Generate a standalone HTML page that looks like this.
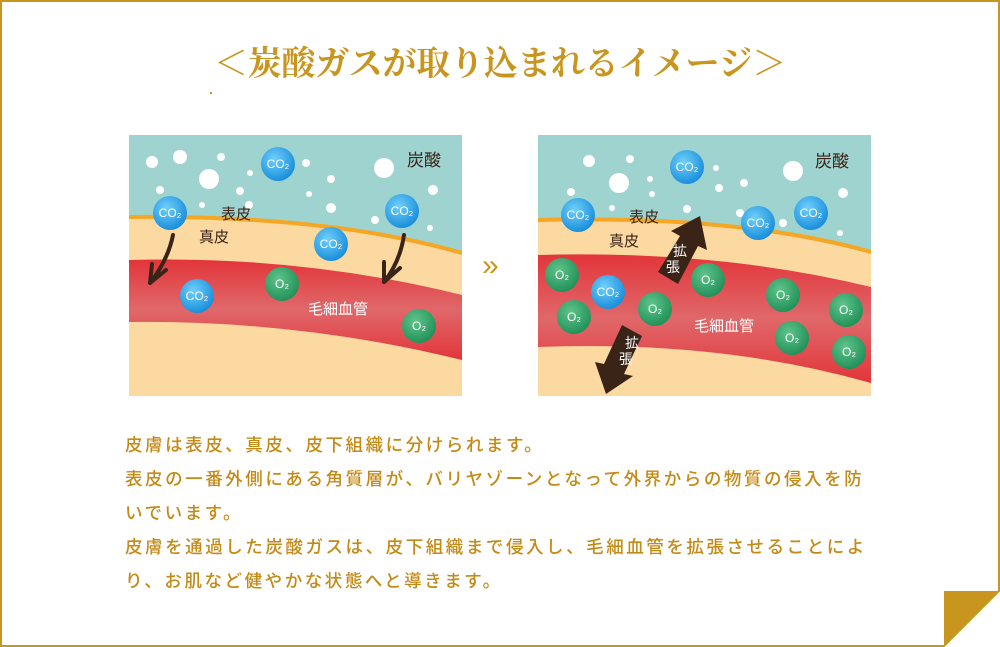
<!DOCTYPE html>
<html><head><meta charset="utf-8"><style>
html,body{margin:0;padding:0;background:#fff;}
body{width:1000px;height:647px;position:relative;overflow:hidden;font-family:"Liberation Sans","Noto Sans CJK JP",sans-serif;}
.title{position:absolute;left:0;width:1000px;top:36px;text-align:center;font-family:"Liberation Serif","Noto Serif CJK SC",serif;font-size:34px;font-weight:bold;color:#c8961e;letter-spacing:-0.3px;}
.txt{position:absolute;left:125px;top:428px;font-size:17.5px;line-height:34px;color:#c48a16;letter-spacing:2.55px;font-weight:500;}
svg{position:absolute;left:0;top:0;}
</style></head><body>
<svg width="1000" height="647" xmlns="http://www.w3.org/2000/svg">
<defs>
<radialGradient id="b" cx="40%" cy="35%" r="65%"><stop offset="0" stop-color="#6fd0fa"/><stop offset="1" stop-color="#1b8fdc"/></radialGradient>
<radialGradient id="g" cx="40%" cy="35%" r="65%"><stop offset="0" stop-color="#5fc48a"/><stop offset="1" stop-color="#22925a"/></radialGradient>
<linearGradient id="r" x1="0" y1="0" x2="0" y2="1"><stop offset="0" stop-color="#e2353a"/><stop offset="0.5" stop-color="#e0686a"/><stop offset="1" stop-color="#e2353a"/></linearGradient>
<clipPath id="c1"><rect x="129" y="135" width="333" height="261"/></clipPath>
<clipPath id="c2"><rect x="538" y="135" width="333" height="261"/></clipPath>
</defs>
<path d="M1,1 H999 V591 L944,646 H1 Z" fill="none" stroke="#c8961e" stroke-width="2"/>
<polygon points="944,591 999,591 944,646" fill="#c8961e"/>
<rect x="210" y="92" width="2" height="2" fill="#c8961e"/>
<g clip-path="url(#c1)">
<rect x="129" y="135" width="333" height="261" fill="#fbd9a0"/>
<path d="M129,135 H462 V253 Q330,215 129,217 Z" fill="#9fd3cf"/>
<path d="M129,217 Q330,215 462,253" fill="none" stroke="#f5a623" stroke-width="4"/>
<path d="M129,260 Q300,255 462,295 V360 Q300,320 129,322 Z" fill="url(#r)"/>
<g fill="#fff">
<circle cx="152" cy="162" r="6"/><circle cx="180" cy="157" r="7"/><circle cx="209" cy="179" r="10"/><circle cx="221" cy="157" r="4"/><circle cx="160" cy="190" r="4"/><circle cx="240" cy="191" r="4"/><circle cx="250" cy="173" r="3"/><circle cx="202" cy="205" r="3"/><circle cx="249" cy="205" r="4"/><circle cx="306" cy="163" r="4"/><circle cx="309" cy="194" r="3"/><circle cx="331" cy="179" r="4"/><circle cx="331" cy="208" r="5"/><circle cx="384" cy="168" r="10"/><circle cx="375" cy="220" r="4"/><circle cx="433" cy="190" r="5"/><circle cx="430" cy="228" r="3"/>
</g>
<g stroke="#3a2418" stroke-width="4" fill="none" stroke-linecap="round"><path d="M173,235 Q168,260 150,283 M150,283 L152,264 M150,283 L166,270"/><path d="M404,235 Q400,262 384,282 M384,282 L384,262 M384,282 L400,268"/></g>
</g>
<g clip-path="url(#c2)">
<rect x="538" y="135" width="333" height="261" fill="#fbd9a0"/>
<path d="M538,135 H871 V252 Q740,215 538,220 Z" fill="#9fd3cf"/>
<path d="M538,220 Q740,215 871,252" fill="none" stroke="#f5a623" stroke-width="4"/>
<path d="M538,255 Q720,250 871,287 V383 Q720,340 538,347 Z" fill="url(#r)"/>
<g fill="#fff">
<circle cx="589" cy="161" r="6"/><circle cx="619" cy="183" r="10"/><circle cx="630" cy="159" r="4"/><circle cx="571" cy="192" r="4"/><circle cx="650" cy="179" r="3"/><circle cx="652" cy="194" r="3"/><circle cx="612" cy="208" r="3"/><circle cx="716" cy="168" r="3"/><circle cx="719" cy="188" r="4"/><circle cx="744" cy="183" r="4"/><circle cx="793" cy="171" r="10"/><circle cx="843" cy="193" r="5"/><circle cx="840" cy="233" r="3"/><circle cx="687" cy="209" r="4"/><circle cx="740" cy="213" r="4"/><circle cx="783" cy="223" r="4"/>
</g>
<g fill="#3a2418">
<polygon points="700,216 707,250 698,246 678,284 658,272 680,236 671,231"/>
<polygon points="606,394 595,362 604,364 622,325 642,336 624,374 633,376"/>
</g>
<g fill="#fff" font-size="14" font-family="'Liberation Sans','Noto Sans CJK JP',sans-serif">
<text x="673" y="256">拡</text><text x="666" y="272">張</text>
<text x="625" y="348">拡</text><text x="619" y="364">張</text>
</g>
</g>
<g font-family="'Liberation Sans','Noto Sans CJK JP',sans-serif" fill="#fff" font-size="12" text-anchor="middle">
<g><circle cx="278" cy="164" r="17" fill="url(#b)"/><text x="278" y="168">CO₂</text></g>
<g><circle cx="170" cy="213" r="17" fill="url(#b)"/><text x="170" y="217">CO₂</text></g>
<g><circle cx="402" cy="211" r="17" fill="url(#b)"/><text x="402" y="215">CO₂</text></g>
<g><circle cx="331" cy="244" r="17" fill="url(#b)"/><text x="331" y="248">CO₂</text></g>
<g><circle cx="197" cy="296" r="17" fill="url(#b)"/><text x="197" y="300">CO₂</text></g>
<g><circle cx="282" cy="284" r="17" fill="url(#g)"/><text x="282" y="288">O₂</text></g>
<g><circle cx="419" cy="326" r="17" fill="url(#g)"/><text x="419" y="330">O₂</text></g>
<g><circle cx="687" cy="167" r="17" fill="url(#b)"/><text x="687" y="171">CO₂</text></g>
<g><circle cx="578" cy="215" r="17" fill="url(#b)"/><text x="578" y="219">CO₂</text></g>
<g><circle cx="758" cy="223" r="17" fill="url(#b)"/><text x="758" y="227">CO₂</text></g>
<g><circle cx="811" cy="213" r="17" fill="url(#b)"/><text x="811" y="217">CO₂</text></g>
<g><circle cx="608" cy="292" r="17" fill="url(#b)"/><text x="608" y="296">CO₂</text></g>
<g><circle cx="562" cy="275" r="17" fill="url(#g)"/><text x="562" y="279">O₂</text></g>
<g><circle cx="574" cy="317" r="17" fill="url(#g)"/><text x="574" y="321">O₂</text></g>
<g><circle cx="655" cy="309" r="17" fill="url(#g)"/><text x="655" y="313">O₂</text></g>
<g><circle cx="708" cy="280" r="17" fill="url(#g)"/><text x="708" y="284">O₂</text></g>
<g><circle cx="783" cy="295" r="17" fill="url(#g)"/><text x="783" y="299">O₂</text></g>
<g><circle cx="792" cy="338" r="17" fill="url(#g)"/><text x="792" y="342">O₂</text></g>
<g><circle cx="846" cy="310" r="17" fill="url(#g)"/><text x="846" y="314">O₂</text></g>
<g><circle cx="849" cy="352" r="17" fill="url(#g)"/><text x="849" y="356">O₂</text></g>
</g>
<g font-family="'Liberation Sans','Noto Sans CJK JP',sans-serif" font-size="15" fill="#3a2418">
<text x="407" y="166" font-size="17">炭酸</text><text x="221" y="219">表皮</text><text x="199" y="242">真皮</text>
<text x="815" y="167" font-size="17">炭酸</text><text x="629" y="222">表皮</text><text x="609" y="246">真皮</text>
<text x="308" y="314" fill="#fff">毛細血管</text><text x="694" y="331" fill="#fff">毛細血管</text>
</g>
<text x="482" y="275" font-size="30" fill="#c8961e" font-family="'Liberation Sans',sans-serif">»</text>
</svg>
<div class="title">＜炭酸ガスが取り込まれるイメージ＞</div>
<div class="txt">皮膚は表皮、真皮、皮下組織に分けられます。<br>表皮の一番外側にある角質層が、バリヤゾーンとなって外界からの物質の侵入を防<br>いでいます。<br>皮膚を通過した炭酸ガスは、皮下組織まで侵入し、毛細血管を拡張させることによ<br>り、お肌など健やかな状態へと導きます。</div>
</body></html>
